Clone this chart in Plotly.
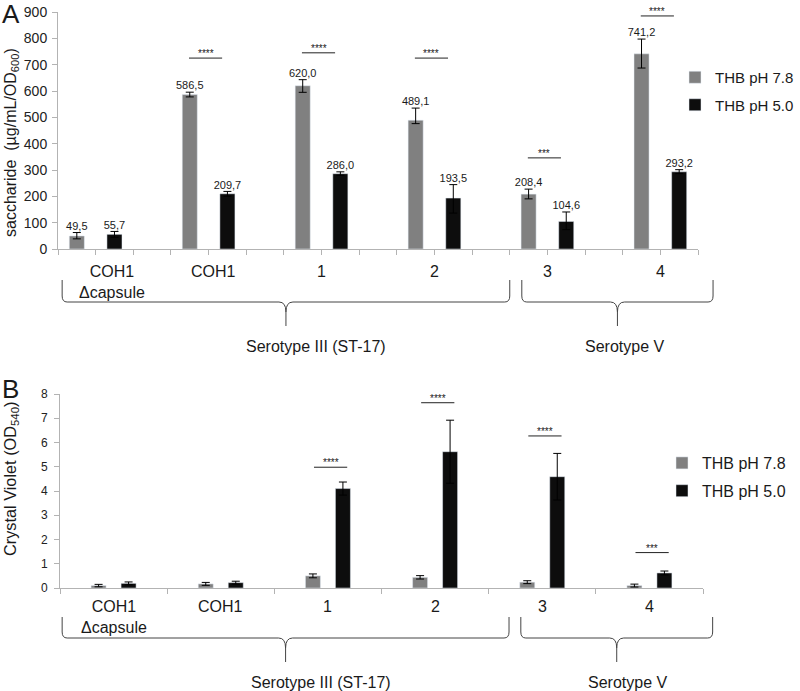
import plotly.graph_objects as go

# ---------------- data ----------------
groups = ["COH1<br>Δcapsule", "COH1", "1", "2", "3", "4"]
series = ["THB pH 7.8", "THB pH 5.0"]

sacch_78 = [49.5, 586.5, 620.0, 489.1, 208.4, 741.2]
sacch_78_err_plus = [13, 9, 23, 46, 19, 56]
sacch_78_err_minus = [11, 9, 25, 13, 18, 54]
sacch_50 = [55.7, 209.7, 286.0, 193.5, 104.6, 293.2]
sacch_50_err_plus = [11, 9, 7, 51, 36, 8]
sacch_50_err_minus = [11, 9, 6, 57, 31, 7]

cv_78 = [0.10, 0.17, 0.50, 0.44, 0.24, 0.10]
cv_78_err = [0.05, 0.06, 0.08, 0.07, 0.06, 0.06]
cv_50 = [0.19, 0.22, 4.10, 5.62, 4.59, 0.62]
cv_50_err = [0.06, 0.06, 0.27, 1.30, 0.96, 0.08]

sacch_sig_groups = [1, 2, 3, 4, 5]
sacch_sig_levels = [725, 745, 725, 346, 885]
sacch_sig_labels = ["****", "****", "****", "***", "****"]

cv_sig_groups = [2, 3, 4, 5]
cv_sig_levels = [4.98, 7.64, 6.27, 1.46]
cv_sig_labels = ["****", "****", "****", "***"]

sacch_ticks = list(range(0, 901, 100))
cv_ticks = list(range(0, 9))

serotypes = ["Serotype III (ST-17)", "Serotype V"]
serotype_members = [[0, 1, 2, 3], [4, 5]]

# ---------------- styling ----------------
W, H = 800, 691
FONT = "Liberation Sans, Arial, sans-serif"
GRAY = "#808080"
BLACK = "#0d0d0d"
AXIS = "#b3b3b3"
TXT = "#1a1a1a"


def px_x(p):
    return p / W


def px_y(p):
    return 1 - p / H


def fmt(v):
    return f"{v:.1f}".replace(".", ",")


n_top = len(groups) * 3 - 1
top_dom = [px_x(58), px_x(698)]
top_rng = [-0.5, n_top - 0.5]
bot_dom = [px_x(60), px_x(703)]
bot_rng = [-0.5, len(groups) - 0.5]


def to_paper(x, dom, rng):
    return dom[0] + (x - rng[0]) / (rng[1] - rng[0]) * (dom[1] - dom[0])


fig = go.Figure()

# ---------- top panel (A): 17 slots, gray/black/blank per group ----------
gray_idx = [3 * g for g in range(len(groups))]
black_idx = [3 * g + 1 for g in range(len(groups))]
bw_top = 0.40

fig.add_trace(go.Bar(
    x=gray_idx, y=sacch_78, width=bw_top, marker_color=GRAY, name=series[0],
    error_y=dict(type="data", symmetric=False, array=sacch_78_err_plus,
                 arrayminus=sacch_78_err_minus, color="black", thickness=1, width=4),
    xaxis="x", yaxis="y", legend="legend", legendgroup="a"))
fig.add_trace(go.Bar(
    x=black_idx, y=sacch_50, width=bw_top, marker_color=BLACK, name=series[1],
    error_y=dict(type="data", symmetric=False, array=sacch_50_err_plus,
                 arrayminus=sacch_50_err_minus, color="black", thickness=1, width=4),
    xaxis="x", yaxis="y", legend="legend", legendgroup="b"))

fig.add_trace(go.Scatter(
    x=gray_idx + black_idx,
    y=[v + e for v, e in zip(sacch_78, sacch_78_err_plus)] + [v + e for v, e in zip(sacch_50, sacch_50_err_plus)],
    text=[fmt(v) for v in sacch_78 + sacch_50], mode="text", textposition="top center",
    textfont=dict(family=FONT, size=11, color=TXT), showlegend=False, cliponaxis=False,
    hoverinfo="skip", xaxis="x", yaxis="y"))

# ---------- bottom panel (B): grouped bars ----------
cat_idx = list(range(len(groups)))
bw_bot = 0.14
fig.add_trace(go.Bar(
    x=cat_idx, y=cv_78, width=bw_bot, offset=-0.21, marker_color=GRAY, name=series[0],
    error_y=dict(type="data", array=cv_78_err, color="black", thickness=1, width=4),
    xaxis="x2", yaxis="y2", legend="legend2", legendgroup="c"))
fig.add_trace(go.Bar(
    x=cat_idx, y=cv_50, width=bw_bot, offset=0.07, marker_color=BLACK, name=series[1],
    error_y=dict(type="data", array=cv_50_err, color="black", thickness=1, width=4),
    xaxis="x2", yaxis="y2", legend="legend2", legendgroup="d"))

shapes = []
annotations = []


def note(**kw):
    base = dict(showarrow=False, xanchor="center", yanchor="middle")
    base.update(kw)
    annotations.append(base)


# significance bars
for g, lev, lab in zip(sacch_sig_groups, sacch_sig_levels, sacch_sig_labels):
    x0, x1 = 3 * g - 0.02, 3 * g + 0.86
    shapes.append(dict(type="line", xref="x", yref="y", x0=x0, x1=x1, y0=lev, y1=lev,
                       line=dict(color="#222", width=1)))
    note(xref="x", yref="y", x=(x0 + x1) / 2, y=lev, text=lab, yanchor="bottom", yshift=-3,
         font=dict(family=FONT, size=10, color=TXT))
for g, lev, lab in zip(cv_sig_groups, cv_sig_levels, cv_sig_labels):
    x0, x1 = g - 0.13, g + 0.18
    shapes.append(dict(type="line", xref="x2", yref="y2", x0=x0, x1=x1, y0=lev, y1=lev,
                       line=dict(color="#222", width=1)))
    note(xref="x2", yref="y2", x=(x0 + x1) / 2, y=lev, text=lab, yanchor="bottom", yshift=-3,
         font=dict(family=FONT, size=10, color=TXT))

# category labels
top_shift = [16, 5, 0, 0, 0, 0]
for g, lab in enumerate(groups):
    note(xref="x", yref="paper", x=3 * g + 0.5, y=px_y(261), xshift=top_shift[g],
         text=lab, yanchor="top", align="center", font=dict(family=FONT, size=16, color=TXT))
    note(xref="x2", yref="paper", x=g, y=px_y(596),
         text=lab, yanchor="top", align="center", font=dict(family=FONT, size=16, color=TXT))


# braces (drawn in paper space so the outer ends are not clipped by the plot area)
def brace(x0, x1, dom, rng, yt, yh, ytip):
    p0, p1 = to_paper(x0, dom, rng), to_paper(x1, dom, rng)
    pm = (p0 + p1) / 2
    dx = px_x(5)
    dxt = px_x(7)
    Yt, Yh, Yc, Yd, Ytip = px_y(yt), px_y(yh), px_y(yh - 6), px_y(yh + 10), px_y(ytip)
    path = (f"M{p0},{Yt} L{p0},{Yc} Q{p0},{Yh} {p0 + dx},{Yh} L{pm - dxt},{Yh} "
            f"Q{pm},{Yh} {pm},{Yd} L{pm},{Ytip} M{pm},{Yd} Q{pm},{Yh} {pm + dxt},{Yh} "
            f"L{p1 - dx},{Yh} Q{p1},{Yh} {p1},{Yc} L{p1},{Yt}")
    return dict(type="path", xref="paper", yref="paper", path=path, line=dict(color="#444", width=1))


top_brace_ext = [(-0.39, 11.5), (11.82, 16.9)]
bot_brace_ext = [(-0.48, 3.69), (3.80, 5.59)]
top_sero_x = [6.35, 14.56]
bot_sero_x = [1.94, 4.80]
for k, name in enumerate(serotypes):
    shapes.append(brace(*top_brace_ext[k], top_dom, top_rng, 280, 302, 326))
    shapes.append(brace(*bot_brace_ext[k], bot_dom, bot_rng, 617, 638, 662))
    note(xref="x", yref="paper", x=top_sero_x[k], y=px_y(347), text=name,
         font=dict(family=FONT, size=16, color=TXT))
    note(xref="x2", yref="paper", x=bot_sero_x[k], y=px_y(682), text=name,
         font=dict(family=FONT, size=16, color=TXT))

# panel letters and y titles
note(xref="paper", yref="paper", x=px_x(11), y=1, yanchor="top", yshift=3, text="A",
     font=dict(family=FONT, size=26, color=TXT))
note(xref="paper", yref="paper", x=px_x(10), y=px_y(389), text="B",
     font=dict(family=FONT, size=26, color=TXT))
note(xref="paper", yref="paper", x=px_x(11), y=px_y(143), textangle=-90,
     text="saccharide\u00a0 (µg/mL/OD<sub>600</sub>)", font=dict(family=FONT, size=16, color=TXT))
note(xref="paper", yref="paper", x=px_x(11), y=px_y(479), textangle=-90,
     text="Crystal Violet (OD<sub>540</sub>)", font=dict(family=FONT, size=16.3, color=TXT))

axis_common = dict(showline=True, linecolor=AXIS, linewidth=1, showgrid=False, zeroline=False,
                   ticks="outside", tickcolor=AXIS, ticklen=5, automargin=False)

fig.update_layout(
    width=W, height=H, margin=dict(l=0, r=0, t=0, b=0),
    paper_bgcolor="white", plot_bgcolor="white", barmode="overlay",
    font=dict(family=FONT, color=TXT),
    xaxis=dict(domain=top_dom, anchor="y", range=top_rng,
               tickvals=[i - 0.5 for i in range(n_top + 1)], showticklabels=False, **axis_common),
    yaxis=dict(domain=[px_y(249), px_y(12)], anchor="x", range=[0, 900], tickvals=sacch_ticks,
               tickfont=dict(size=14, color="#222"), ticklabelstandoff=2,
               ticklabeloverflow="allow", **axis_common),
    xaxis2=dict(domain=bot_dom, anchor="y2", range=bot_rng,
                tickvals=[i - 0.5 for i in range(len(groups) + 1)], showticklabels=False, **axis_common),
    yaxis2=dict(domain=[px_y(588), px_y(394)], anchor="x2", range=[0, 8], tickvals=cv_ticks,
                tickfont=dict(size=12, color="#222"), ticklabelstandoff=4,
                ticklabeloverflow="allow", **axis_common),
    legend=dict(x=px_x(675), y=px_y(61), xanchor="left", yanchor="top", bgcolor="rgba(0,0,0,0)",
                font=dict(family=FONT, size=15, color=TXT), tracegroupgap=5),
    legend2=dict(x=px_x(662), y=px_y(446), xanchor="left", yanchor="top", bgcolor="rgba(0,0,0,0)",
                 font=dict(family=FONT, size=16, color=TXT), tracegroupgap=4),
    shapes=shapes, annotations=annotations, showlegend=True,
)

fig.write_html("out.html", config={"displayModeBar": False},
               post_script="document.body.style.margin='0';document.body.style.overflow='hidden';")
